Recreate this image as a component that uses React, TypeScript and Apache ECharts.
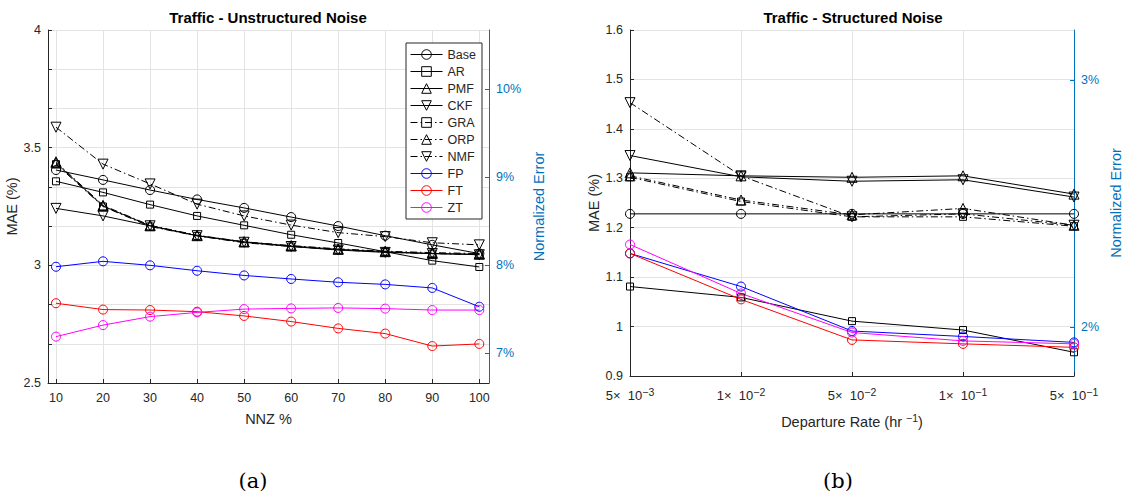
import React, { useEffect, useRef } from 'react';
import * as echarts from 'echarts';

// ---------- data ----------
const nnzValues = [10, 20, 30, 40, 50, 60, 70, 80, 90, 100];
const leftMaeLabels = [2.5, 3, 3.5, 4];
const leftErrTicks = [7, 8, 9, 10];

const uBase = [3.405, 3.363, 3.32, 3.28, 3.244, 3.205, 3.167, 3.126, 3.087, 3.05];
const uAR = [3.357, 3.31, 3.258, 3.21, 3.17, 3.13, 3.095, 3.058, 3.02, 2.993];
const uPMF = [3.435, 3.252, 3.168, 3.126, 3.1, 3.082, 3.068, 3.058, 3.05, 3.047];
const uCKF = [3.242, 3.21, 3.168, 3.126, 3.098, 3.08, 3.065, 3.055, 3.05, 3.045];
const uGRA = [3.43, 3.25, 3.165, 3.125, 3.096, 3.08, 3.066, 3.056, 3.05, 3.046];
const uORP = [3.44, 3.255, 3.17, 3.128, 3.1, 3.084, 3.07, 3.06, 3.054, 3.05];
const uNMF = [3.587, 3.43, 3.346, 3.26, 3.21, 3.171, 3.139, 3.122, 3.096, 3.087];
const uFP = [2.994, 3.017, 3.0, 2.977, 2.957, 2.942, 2.928, 2.919, 2.904, 2.824];
const uFT = [2.839, 2.812, 2.81, 2.803, 2.785, 2.761, 2.732, 2.71, 2.657, 2.666];
const uZT = [2.697, 2.746, 2.782, 2.8, 2.814, 2.817, 2.819, 2.816, 2.81, 2.81];

const departureRates = ['5e-3', '1e-2', '5e-2', '1e-1', '5e-1'];
const departureMantissa = ['5', '1', '5', '1', '5'];
const departureExponent = ['\u22123', '\u22122', '\u22122', '\u22121', '\u22121'];
const rightErrTicks = [2, 3];

const sBase = [1.228, 1.228, 1.228, 1.228, 1.228];
const sAR = [1.081, 1.059, 1.011, 0.993, 0.948];
const sPMF = [1.311, 1.305, 1.302, 1.305, 1.268];
const sCKF = [1.346, 1.303, 1.294, 1.297, 1.262];
const sGRA = [1.302, 1.253, 1.222, 1.222, 1.203];
const sORP = [1.305, 1.256, 1.226, 1.239, 1.205];
const sNMF = [1.453, 1.305, 1.222, 1.228, 1.205];
const sFP = [1.148, 1.081, 0.991, 0.98, 0.968];
const sFT = [1.148, 1.055, 0.973, 0.965, 0.958];
const sZT = [1.166, 1.067, 0.988, 0.971, 0.965];

const methodNames = ['Base', 'AR', 'PMF', 'CKF', 'GRA', 'ORP', 'NMF', 'FP', 'FT', 'ZT'];
const unstructured = [uBase, uAR, uPMF, uCKF, uGRA, uORP, uNMF, uFP, uFT, uZT];
const structured = [sBase, sAR, sPMF, sCKF, sGRA, sORP, sNMF, sFP, sFT, sZT];

// ---------- styles ----------
const FONT = "'Liberation Sans', Arial, Helvetica, sans-serif";
const AX = '#262626';
const BLUE = '#0072BD';
const GRIDC = '#e3e3e3';
const DASHDOT = [7, 3, 1.5, 3];

const styles = [
  { symbol: 'circle', rotate: 0, size: 9, color: '#000000', dash: false },
  { symbol: 'rect', rotate: 0, size: 7, color: '#000000', dash: false },
  { symbol: 'triangle', rotate: 0, size: 10, color: '#000000', dash: false },
  { symbol: 'triangle', rotate: 180, size: 10, color: '#000000', dash: false },
  { symbol: 'rect', rotate: 0, size: 7, color: '#000000', dash: true },
  { symbol: 'triangle', rotate: 0, size: 10, color: '#000000', dash: true },
  { symbol: 'triangle', rotate: 180, size: 10, color: '#000000', dash: true },
  { symbol: 'circle', rotate: 0, size: 9, color: '#0000ff', dash: false },
  { symbol: 'circle', rotate: 0, size: 9, color: '#ff0000', dash: false },
  { symbol: 'circle', rotate: 0, size: 9, color: '#ff00ff', dash: false },
];

function makeSeries(i: number, data: any[], xi: number, yi: number) {
  const st = styles[i];
  return {
    type: 'line',
    name: methodNames[i],
    xAxisIndex: xi,
    yAxisIndex: yi,
    data,
    symbol: st.symbol,
    symbolSize: st.size,
    symbolRotate: st.rotate,
    showAllSymbol: true,
    lineStyle: { color: st.color, width: 1, type: st.dash ? DASHDOT : 'solid' },
    itemStyle: { color: 'rgba(0,0,0,0)', borderColor: st.color, borderWidth: 1 },
    emphasis: { disabled: true },
    silent: true,
  };
}

export default function App() {
  const ref = useRef<HTMLDivElement>(null);
  useEffect(() => {
    if (!ref.current) return;
    const chart = echarts.init(ref.current, undefined, { renderer: 'svg' });
    const series: any[] = [];
    unstructured.forEach((vals, i) => {
      series.push(makeSeries(i, vals.map((v, k) => [nnzValues[k], v]), 0, 0));
    });
    structured.forEach((vals, i) => {
      series.push(makeSeries(i, vals, 1, 2));
    });

    const labelStyle = { color: AX, fontSize: 12.5, fontFamily: FONT };
    const nameStyle = { color: AX, fontSize: 14.5, fontFamily: FONT };

    const option: any = {
      animation: false,
      grid: [
        { left: 48, top: 30, width: 441, height: 353 },
        { left: 630, top: 30, width: 446, height: 346 },
      ],
      legend: {
        orient: 'vertical',
        left: 406,
        top: 43,
        data: methodNames,
        itemWidth: 32,
        itemHeight: 12,
        itemGap: 4,
        padding: [5, 6, 5, 4],
        borderColor: AX,
        borderWidth: 1,
        borderRadius: 0,
        backgroundColor: '#ffffff',
        lineStyle: { width: 1 },
        itemStyle: { borderWidth: 1 },
        textStyle: { color: AX, fontSize: 12.5, fontFamily: FONT, lineHeight: 12 },
        selectedMode: false,
        z: 10,
      },
      xAxis: [
        {
          type: 'value',
          gridIndex: 0,
          min: 8.3,
          max: 102.06,
          axisLine: { show: true, onZero: false, lineStyle: { color: AX } },
          axisTick: { show: true, inside: true, length: 4, customValues: nnzValues, lineStyle: { color: AX } },
          axisLabel: { ...labelStyle, margin: 8, customValues: nnzValues },
          splitLine: { show: true, lineStyle: { color: GRIDC } },
          name: 'NNZ %',
          nameLocation: 'middle',
          nameGap: 28,
          nameTextStyle: nameStyle,
        },
        {
          type: 'category',
          gridIndex: 1,
          data: departureRates,
          boundaryGap: false,
          axisLine: { show: true, onZero: false, lineStyle: { color: AX } },
          axisTick: { show: true, inside: true, length: 4, interval: 0, lineStyle: { color: AX } },
          axisLabel: {
            interval: 0,
            margin: 10,
            formatter: (_v: string, idx: number) =>
              `{m|${departureMantissa[idx]}\u00d7  10}{e|${departureExponent[idx]}}`,
            rich: {
              m: { color: AX, fontSize: 13, fontFamily: FONT },
              e: { color: AX, fontSize: 10.5, fontFamily: FONT, padding: [0, 0, 8, 0] },
            },
          },
          splitLine: { show: true, interval: 0, lineStyle: { color: GRIDC } },
          name: '{a|Departure Rate (hr }{e|\u22121}{a|)}',
          nameLocation: 'middle',
          nameGap: 36,
          nameTextStyle: {
            rich: {
              a: { color: AX, fontSize: 14.5, fontFamily: FONT },
              e: { color: AX, fontSize: 10.5, fontFamily: FONT, padding: [0, 0, 9, 0] },
            },
          },
        },
      ],
      yAxis: [
        {
          type: 'value',
          gridIndex: 0,
          min: 2.5,
          max: 4,
          interval: 1 / 6,
          axisLine: { show: true, lineStyle: { color: AX } },
          axisTick: { show: true, inside: true, length: 4, lineStyle: { color: AX } },
          axisLabel: {
            ...labelStyle,
            margin: 7,
            formatter: (v: number) =>
              leftMaeLabels.some((l) => Math.abs(l - v) < 1e-6) ? String(Math.round(v * 10) / 10) : '',
          },
          splitLine: { show: true, lineStyle: { color: GRIDC } },
          name: 'MAE (%)',
          nameLocation: 'middle',
          nameGap: 20,
          nameRotate: 90,
          nameTextStyle: nameStyle,
        },
        {
          type: 'value',
          gridIndex: 0,
          position: 'right',
          min: 6.663,
          max: 10.67,
          axisLine: { show: true, lineStyle: { color: BLUE } },
          axisTick: { show: true, inside: true, length: 4, customValues: leftErrTicks, lineStyle: { color: BLUE } },
          axisLabel: {
            color: BLUE,
            fontSize: 12.5,
            fontFamily: FONT,
            margin: 7,
            customValues: leftErrTicks,
            formatter: (v: number) => `${v}%`,
          },
          splitLine: { show: false },
          name: 'Normalized Error',
          nameLocation: 'middle',
          nameGap: 42,
          nameRotate: 90,
          nameTextStyle: { color: BLUE, fontSize: 14.5, fontFamily: FONT },
        },
        {
          type: 'value',
          gridIndex: 1,
          min: 0.9,
          max: 1.6,
          interval: 0.1,
          axisLine: { show: true, lineStyle: { color: AX } },
          axisTick: { show: true, inside: true, length: 4, lineStyle: { color: AX } },
          axisLabel: { ...labelStyle, margin: 7, formatter: (v: number) => String(Math.round(v * 10) / 10) },
          splitLine: { show: true, lineStyle: { color: GRIDC } },
          name: 'MAE (%)',
          nameLocation: 'middle',
          nameGap: 27,
          nameRotate: 90,
          nameTextStyle: nameStyle,
        },
        {
          type: 'value',
          gridIndex: 1,
          position: 'right',
          min: 1.8016,
          max: 3.2024,
          axisLine: { show: true, lineStyle: { color: BLUE } },
          axisTick: { show: true, inside: true, length: 4, customValues: rightErrTicks, lineStyle: { color: BLUE } },
          axisLabel: {
            color: BLUE,
            fontSize: 12.5,
            fontFamily: FONT,
            margin: 7,
            customValues: rightErrTicks,
            formatter: (v: number) => `${v}%`,
          },
          splitLine: { show: false },
          name: 'Normalized Error',
          nameLocation: 'middle',
          nameGap: 34,
          nameRotate: 90,
          nameTextStyle: { color: BLUE, fontSize: 14.5, fontFamily: FONT },
        },
      ],
      graphic: [
        {
          type: 'text',
          x: 268,
          y: 17,
          style: {
            text: 'Traffic - Unstructured Noise',
            font: `bold 15px ${FONT}`,
            fill: '#000',
            textAlign: 'center',
            textVerticalAlign: 'middle',
          },
        },
        {
          type: 'text',
          x: 853,
          y: 17,
          style: {
            text: 'Traffic - Structured Noise',
            font: `bold 15px ${FONT}`,
            fill: '#000',
            textAlign: 'center',
            textVerticalAlign: 'middle',
          },
        },
        {
          type: 'text',
          x: 253,
          y: 481,
          style: {
            text: '(a)',
            font: "21px 'DejaVu Serif', 'Liberation Serif', serif",
            fill: '#000',
            textAlign: 'center',
            textVerticalAlign: 'middle',
          },
        },
        {
          type: 'text',
          x: 838,
          y: 481,
          style: {
            text: '(b)',
            font: "21px 'DejaVu Serif', 'Liberation Serif', serif",
            fill: '#000',
            textAlign: 'center',
            textVerticalAlign: 'middle',
          },
        },
      ],
      series,
    };
    chart.setOption(option);
    return () => chart.dispose();
  }, []);
  return (
    <div
      ref={ref}
      style={{ position: 'absolute', left: 0, top: 0, width: 1124, height: 494, background: '#fff' }}
    />
  );
}
